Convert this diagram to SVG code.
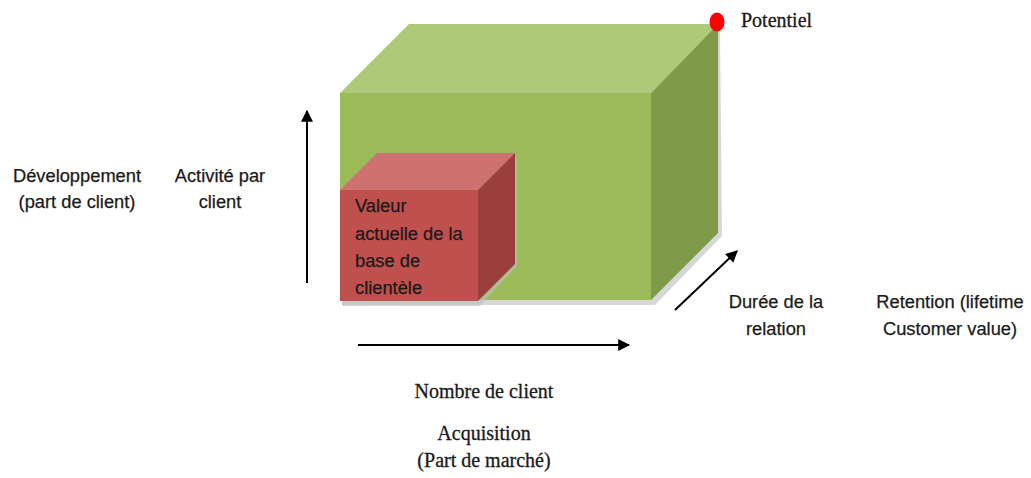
<svg xmlns="http://www.w3.org/2000/svg" width="1031" height="478" viewBox="0 0 1031 478">
<style>
.sans{font-family:"Liberation Sans",Arial,sans-serif;font-size:18.3px;fill:#1a1a1a;stroke:#1a1a1a;stroke-width:0.25}
.serif{font-family:"Liberation Serif","Times New Roman",serif;font-size:20px;fill:#1a1a1a;stroke:#1a1a1a;stroke-width:0.3}
.axis{stroke:#000;stroke-width:2;fill:none}
.shadow{fill:#bdbdbd;opacity:0.6}
</style>
<defs>
<marker id="ah" viewBox="0 0 10 10" refX="9" refY="5" markerWidth="6" markerHeight="6" markerUnits="strokeWidth" orient="auto">
<path d="M0,0 L10,5 L0,10 z" fill="#000"/>
</marker>
</defs>
<rect width="1031" height="478" fill="#fff"/>

<g id="big-cube">
<polygon class="shadow" points="342,96 653,96 720,29 722,236 655,305 342,305"/>
<polygon points="340,93 409,24 718,24 651,93" fill="#AFC97B"/>
<polygon points="651,93 718,24 718,233 651,300" fill="#7F9A48"/>
<rect x="340" y="93" width="311" height="207" fill="#9BBB59"/>
</g>

<g id="small-cube">
<polygon class="shadow" points="342,193 480,193 517,156 517,266 480,306 342,306"/>
<polygon points="340,190 377,153 515,153 478,190" fill="#CD7270"/>
<polygon points="478,190 515,153 515,264 478,301" fill="#9A3E3C"/>
<rect x="340" y="190" width="138" height="111" fill="#C0504D"/>
<text class="sans" x="355" y="212">Valeur</text>
<text class="sans" x="355" y="240">actuelle de la</text>
<text class="sans" x="355" y="267">base de</text>
<text class="sans" x="355" y="294">clientèle</text>
</g>

<g id="potentiel">
<ellipse cx="717" cy="22" rx="7.5" ry="9.5" fill="#FF0000"/>
<text class="serif" x="741" y="27">Potentiel</text>
</g>

<g id="connectors">
<line class="axis" x1="307" y1="283" x2="307" y2="111" marker-end="url(#ah)"/>
<line class="axis" x1="358" y1="345" x2="629" y2="345" marker-end="url(#ah)"/>
<line class="axis" x1="675" y1="310" x2="737" y2="251" marker-end="url(#ah)"/>
</g>

<g id="label-developpement">
<text class="sans" x="77" y="182" text-anchor="middle">Développement</text>
<text class="sans" x="77" y="208" text-anchor="middle">(part de client)</text>
</g>
<g id="label-activite">
<text class="sans" x="220" y="182" text-anchor="middle">Activité par</text>
<text class="sans" x="220" y="208" text-anchor="middle">client</text>
</g>
<g id="label-duree">
<text class="sans" x="776" y="308" text-anchor="middle">Durée de la</text>
<text class="sans" x="776" y="335" text-anchor="middle">relation</text>
</g>
<g id="label-retention">
<text class="sans" x="950" y="308" text-anchor="middle">Retention (lifetime</text>
<text class="sans" x="950" y="335" text-anchor="middle">Customer value)</text>
</g>
<g id="label-nombre">
<text class="serif" x="484" y="398" text-anchor="middle">Nombre de client</text>
</g>
<g id="label-acquisition">
<text class="serif" x="484" y="440" text-anchor="middle">Acquisition</text>
<text class="serif" x="484" y="467" text-anchor="middle">(Part de marché)</text>
</g>
</svg>
